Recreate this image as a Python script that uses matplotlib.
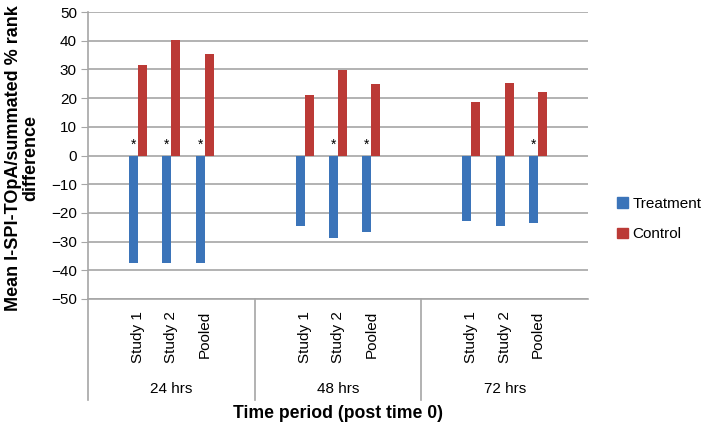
import matplotlib.pyplot as plt
from matplotlib.patches import Patch

# --- data ---
groups = ['24 hrs', '48 hrs', '72 hrs']
studies = ['Study 1', 'Study 2', 'Pooled']
treatment = [[-37.3, -37.3, -37.3],
             [-24.4, -28.6, -26.7],
             [-22.8, -24.4, -23.4]]
control = [[31.4, 40.2, 35.3],
           [21.0, 29.9, 24.9],
           [18.5, 25.2, 22.0]]
signif = [[1, 1, 1],
          [0, 1, 1],
          [0, 0, 1]]

BLUE = '#3b74b9'
RED = '#bb3a36'
GRID = '#a6a6a6'

plt.rcParams['font.family'] = ['Liberation Sans', 'DejaVu Sans']

fig = plt.figure(figsize=(7.06, 4.29), dpi=100)
ax = fig.add_axes([88 / 706, 1 - 299 / 429, 500 / 706, 287 / 429])

w = 0.27
for g in range(len(groups)):
    for s in range(len(studies)):
        c = g * 5 + s + 1
        ax.bar(c - w / 2, treatment[g][s], width=w, color=BLUE, zorder=3)
        ax.bar(c + w / 2, control[g][s], width=w, color=RED, zorder=3)
        if signif[g][s]:
            ax.text(c - w / 2, 3.6, '*', ha='center', va='center', fontsize=10, zorder=4)

ax.set_xlim(-0.5, 14.5)
ax.set_ylim(-50, 50)
ax.set_yticks(range(-50, 51, 10))
ax.set_yticklabels([str(v).replace('-', '\u2212') for v in range(-50, 51, 10)], fontsize=11)
ax.yaxis.grid(True, color=GRID, linewidth=1.2, zorder=0)
ax.set_axisbelow(True)
ax.tick_params(axis='y', direction='out', length=5, color=GRID, pad=3)
ax.set_xticks([])
for sp in ['top', 'right']:
    ax.spines[sp].set_visible(False)
ax.spines['left'].set_color(GRID)
ax.spines['bottom'].set_color(GRID)
ax.spines['left'].set_linewidth(1.2)
ax.spines['bottom'].set_linewidth(1.2)

# multi-level category axis below
trans = ax.get_xaxis_transform()
y_bot = -(400 - 299) / 287
for xb in [-0.5, 4.5, 9.5]:
    ax.plot([xb, xb], [0, y_bot], transform=trans, color=GRID, lw=1.2, clip_on=False)
for g in range(len(groups)):
    for s in range(len(studies)):
        c = g * 5 + s + 1
        ax.text(c, -(311 - 299) / 287, studies[s], transform=trans, rotation=90,
                ha='center', va='top', fontsize=11)
    ax.text(g * 5 + 2, -(389 - 299) / 287, groups[g], transform=trans,
            ha='center', va='center', fontsize=11)

ax.text(7, -(413 - 299) / 287, 'Time period (post time 0)', transform=trans,
        ha='center', va='center', fontsize=12.7, fontweight='bold')
fig.text(22 / 706, 1 - 158 / 429, 'Mean I-SPI-TOpA/summated % rank\ndifference',
         rotation=90, ha='center', va='center', fontsize=13, fontweight='bold',
         linespacing=1.0)

handles = [Patch(color=BLUE, label='Treatment'), Patch(color=RED, label='Control')]
fig.legend(handles=handles, loc='center left', bbox_to_anchor=(617 / 706, 1 - 219 / 429),
           frameon=False, fontsize=11, handlelength=0.7, handleheight=0.7,
           handletextpad=0.3, labelspacing=1.1, borderpad=0, borderaxespad=0)

fig.savefig('out.png', dpi=100)
